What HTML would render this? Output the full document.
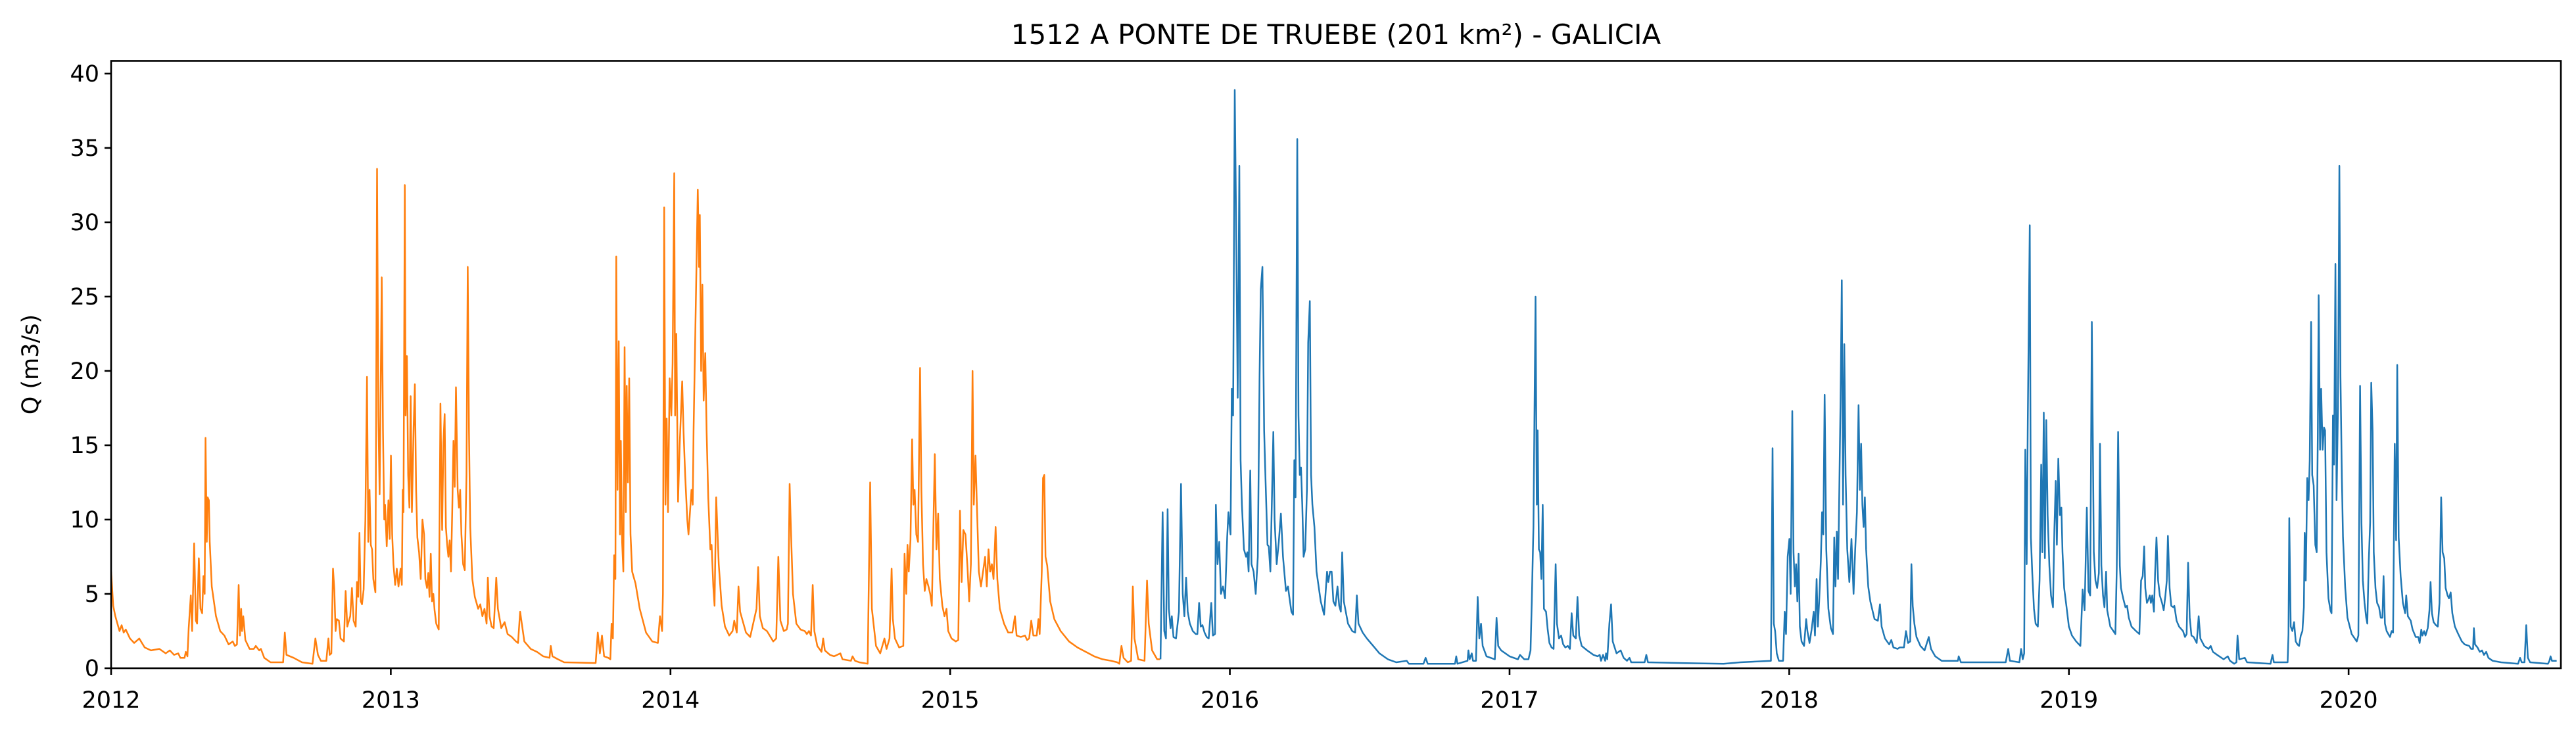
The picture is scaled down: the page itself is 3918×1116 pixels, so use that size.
<!DOCTYPE html>
<html><head><meta charset="utf-8"><style>
html,body{margin:0;padding:0;background:#fff;}
svg{display:block;font-family:"DejaVu Sans","Liberation Sans",sans-serif;}
</style></head><body>
<svg id="chart" width="3918" height="1116" viewBox="0 0 3918 1116" xmlns="http://www.w3.org/2000/svg">
<text x="2032" y="67" font-size="42" text-anchor="middle" fill="#000">1512 A PONTE DE TRUEBE (201 km²) - GALICIA</text>
<text transform="translate(58,554) rotate(-90)" font-size="35" text-anchor="middle" fill="#000">Q (m3/s)</text>
<defs><clipPath id="plotclip"><rect x="169" y="92.5" width="3726" height="923.5"/></clipPath></defs>
<g id="yticks"></g>
<g id="xticks"></g>
<g id="lines" clip-path="url(#plotclip)"></g>
<rect x="169" y="92.5" width="3726" height="923.5" fill="none" stroke="#000" stroke-width="2.6"/>
</svg>
<script>
const yTicks = [0,5,10,15,20,25,30,35,40];
const xTickYears = [2012,2013,2014,2015,2016,2017,2018,2019,2020];
const xTickLabels = ["2012","2013","2014","2015","2016","2017","2018","2019","2020"];
const orangeSeries = [
[2012.000,6.5],[2012.0075,4.2],[2012.015,3.5],[2012.030,2.5],[2012.0375,2.9],[2012.045,2.4],[2012.0525,2.6],[2012.0675,2.0],[2012.0825,1.7],[2012.1005,2.0],[2012.12,1.4],[2012.1425,1.2],[2012.1725,1.3],[2012.195,1.0],[2012.21,1.2],[2012.225,0.9],[2012.24,1.0],[2012.2475,0.7],[2012.2625,0.7],[2012.267,1.1],[2012.273,0.8],[2012.2775,2.7],[2012.285,4.9],[2012.2895,2.5],[2012.297,8.4],[2012.303,3.2],[2012.3075,3.0],[2012.3135,7.4],[2012.3195,4.0],[2012.3255,3.7],[2012.33,6.2],[2012.3345,5.0],[2012.3375,15.5],[2012.342,8.5],[2012.345,11.5],[2012.3495,11.3],[2012.3525,8.5],[2012.36,5.5],[2012.375,3.5],[2012.39,2.5],[2012.405,2.2],[2012.42,1.6],[2012.435,1.8],[2012.4425,1.5],[2012.45,1.6],[2012.456,5.6],[2012.4605,2.2],[2012.465,4.0],[2012.468,2.5],[2012.4725,3.5],[2012.48,1.9],[2012.495,1.3],[2012.51,1.3],[2012.5175,1.5],[2012.5295,1.2],[2012.5355,1.3],[2012.5475,0.7],[2012.57,0.4],[2012.615,0.4],[2012.621,2.4],[2012.627,0.9],[2012.6525,0.7],[2012.6825,0.4],[2012.72,0.3],[2012.7305,2.0],[2012.7395,0.9],[2012.75,0.5],[2012.7695,0.5],[2012.777,2.0],[2012.7815,0.9],[2012.7875,1.0],[2012.7935,6.7],[2012.798,5.3],[2012.8025,2.5],[2012.807,3.3],[2012.8145,3.2],[2012.8205,2.0],[2012.8325,1.8],[2012.8385,5.2],[2012.8445,2.8],[2012.855,3.5],[2012.861,5.4],[2012.867,3.2],[2012.8745,2.8],[2012.879,5.8],[2012.8835,4.8],[2012.888,9.1],[2012.8925,4.5],[2012.897,4.3],[2012.903,5.3],[2012.909,10],[2012.915,19.6],[2012.9195,8.5],[2012.924,12],[2012.9285,8.3],[2012.933,8.0],[2012.9375,6],[2012.945,5.1],[2012.951,33.6],[2012.9555,17],[2012.96,11.7],[2012.9675,26.3],[2012.972,16],[2012.9765,10],[2012.9795,11],[2012.9855,8.2],[2012.9915,11.3],[2012.996,8.7],[2013.0005,14.3],[2013.005,9],[2013.0095,7],[2013.0155,5.6],[2013.0215,6.7],[2013.0275,5.5],[2013.035,6.7],[2013.0395,5.6],[2013.0425,12],[2013.0455,10.5],[2013.05,32.5],[2013.053,17],[2013.0575,21],[2013.062,13],[2013.0665,10.8],[2013.071,18.3],[2013.0755,10.5],[2013.0815,16.2],[2013.086,19.1],[2013.0905,12],[2013.095,8.8],[2013.101,7.8],[2013.107,6],[2013.113,10],[2013.119,9],[2013.1235,6],[2013.1295,5.4],[2013.134,6.4],[2013.1385,4.8],[2013.143,7.7],[2013.1475,4.5],[2013.152,5],[2013.1565,3.9],[2013.1625,3],[2013.1715,2.6],[2013.1775,17.8],[2013.1835,9.3],[2013.188,15.2],[2013.1925,17.1],[2013.197,9.5],[2013.2015,8.3],[2013.206,7.5],[2013.2105,8.6],[2013.215,6.5],[2013.2195,10.5],[2013.224,15.3],[2013.2285,12.2],[2013.233,18.9],[2013.239,12],[2013.2435,10.8],[2013.248,12],[2013.2525,9],[2013.2585,7],[2013.2645,6.6],[2013.2705,13],[2013.275,27],[2013.2795,16],[2013.284,9.5],[2013.2915,6],[2013.3005,4.8],[2013.3125,4],[2013.32,4.3],[2013.3275,3.5],[2013.335,4],[2013.3425,3],[2013.347,6.1],[2013.353,3.5],[2013.3605,2.8],[2013.368,2.7],[2013.377,6.1],[2013.383,4],[2013.395,2.7],[2013.407,3.1],[2013.4175,2.3],[2013.4325,2.1],[2013.4475,1.8],[2013.455,1.7],[2013.4625,3.8],[2013.47,2.8],[2013.4775,1.8],[2013.5,1.3],[2013.5225,1.1],[2013.545,0.8],[2013.5675,0.7],[2013.572,1.5],[2013.578,0.8],[2013.5975,0.6],[2013.62,0.4],[2013.7325,0.35],[2013.74,2.4],[2013.7475,1.0],[2013.755,2.2],[2013.7625,0.8],[2013.7775,0.7],[2013.785,0.6],[2013.7895,3.0],[2013.794,2.0],[2013.7985,7.6],[2013.803,6.0],[2013.806,27.7],[2013.8105,12],[2013.815,22],[2013.8195,9],[2013.8225,15.3],[2013.827,8.5],[2013.8315,6.5],[2013.836,21.6],[2013.8405,10.5],[2013.8435,19],[2013.848,12.5],[2013.8525,19.5],[2013.857,9],[2013.863,6.5],[2013.875,5.7],[2013.89,4],[2013.9125,2.4],[2013.935,1.8],
[2013.955,1.7],[2013.9625,3.5],[2013.97,2.5],[2013.973,5],[2013.9775,31],[2013.982,11],[2013.9865,16.8],[2013.991,10.5],[2013.997,19.5],[2014.003,17],[2014.0075,20.5],[2014.0135,33.3],[2014.0165,17],[2014.021,22.5],[2014.027,11.2],[2014.033,15],[2014.042,19.3],[2014.0465,16],[2014.0525,13],[2014.06,10],[2014.0645,9],[2014.075,12],[2014.0795,11],[2014.0825,16],[2014.09,24],[2014.0975,32.2],[2014.102,27],[2014.105,30.5],[2014.1095,20],[2014.114,25.8],[2014.1185,18],[2014.1245,21.2],[2014.129,16],[2014.135,11.5],[2014.1425,8],[2014.147,8.3],[2014.153,5.5],[2014.1575,4.2],[2014.1635,11.5],[2014.1725,7],[2014.183,4.2],[2014.195,2.8],[2014.21,2.2],[2014.222,2.5],[2014.228,3.2],[2014.237,2.4],[2014.243,5.5],[2014.249,3.8],[2014.258,3.2],[2014.27,2.4],[2014.285,2.1],[2014.3075,4],[2014.3135,6.8],[2014.3195,3.5],[2014.33,2.7],[2014.345,2.5],[2014.3675,1.8],[2014.378,2],[2014.3855,7.5],[2014.393,3.2],[2014.405,2.5],[2014.4155,2.6],[2014.42,3],[2014.426,12.4],[2014.432,8.4],[2014.438,5],[2014.45,3],[2014.465,2.6],[2014.48,2.5],[2014.4875,2.3],[2014.495,2.5],[2014.5025,2.2],[2014.5085,5.6],[2014.5145,2.5],[2014.525,1.5],[2014.54,1.1],[2014.546,2],[2014.552,1.2],[2014.57,0.9],[2014.585,0.8],[2014.6075,1.0],[2014.615,0.6],[2014.645,0.5],[2014.651,0.8],[2014.66,0.5],[2014.675,0.4],[2014.705,0.3],[2014.714,12.5],[2014.72,4],[2014.735,1.5],[2014.75,1.0],[2014.765,2],[2014.7725,1.3],[2014.783,2],[2014.7905,6.7],[2014.795,3.3],[2014.8025,2.0],[2014.8175,1.4],[2014.8325,1.5],[2014.837,7.7],[2014.843,5],[2014.8475,8.3],[2014.852,6.5],[2014.858,8.6],[2014.864,15.4],[2014.8685,11],[2014.873,12],[2014.879,9],[2014.885,8.5],[2014.8925,20.2],[2014.897,12],[2014.903,7],[2014.909,5.2],[2014.915,6],[2014.9225,5.5],[2014.9285,5],[2014.9345,4.2],[2014.945,14.4],[2014.951,8],[2014.957,10.4],[2014.963,6],[2014.972,4.2],[2014.9795,3.5],[2014.987,4],[2014.993,2.5],[2015.005,2.0],[2015.02,1.8],[2015.029,1.9],[2015.035,10.6],[2015.041,5.8],[2015.047,9.3],[2015.0545,9],[2015.062,6.8],[2015.068,4.5],[2015.074,7],[2015.08,20],[2015.0845,11],[2015.0905,14.3],[2015.095,11.3],[2015.1025,6.5],[2015.11,5.5],[2015.1175,6.5],[2015.125,7.5],[2015.131,5.5],[2015.137,8],[2015.143,6.5],[2015.149,7],[2015.155,6],[2015.1625,9.5],[2015.1685,6],[2015.1775,4],[2015.1925,3],[2015.2075,2.4],[2015.2225,2.4],[2015.2315,3.5],[2015.2375,2.2],[2015.2525,2.1],[2015.2675,2.2],[2015.275,1.9],[2015.2825,2.0],[2015.29,3.2],[2015.2975,2.2],[2015.3095,2.2],[2015.3155,3.3],[2015.32,2.3],[2015.3275,6.5],[2015.332,12.8],[2015.3365,13],[2015.341,7.5],[2015.347,6.9],[2015.3575,4.5],[2015.3725,3.3],[2015.395,2.5],[2015.425,1.8],[2015.455,1.4],[2015.485,1.1],[2015.515,0.8],[2015.545,0.6],[2015.575,0.5],[2015.5975,0.4],[2015.605,0.3],[2015.6125,1.5],[2015.62,0.7],[2015.635,0.4],[2015.647,0.5],[2015.653,5.5],[2015.659,2],[2015.6725,0.6],[2015.695,0.5],[2015.704,5.9],[2015.71,3],[2015.722,1.2],[2015.74,0.6],[2015.7505,0.6]
];
const blueSeries = [
[2015.752,0.6],[2015.7595,10.5],[2015.7655,2.5],[2015.7715,2.0],[2015.7775,10.7],[2015.782,4],[2015.788,2.7],[2015.7925,3.5],[2015.7985,2.1],[2015.8075,2.0],[2015.818,3.8],[2015.8255,12.4],[2015.8315,5],[2015.8375,3.5],[2015.8435,6.1],[2015.8495,3.8],[2015.857,3.0],[2015.8675,2.5],[2015.878,2.3],[2015.884,2.3],[2015.89,4.4],[2015.896,2.8],[2015.902,2.9],[2015.9095,2.4],[2015.917,2.1],[2015.9245,2.0],[2015.9335,4.4],[2015.9395,2.2],[2015.947,2.3],[2015.95,11],[2015.956,7],[2015.962,8.5],[2015.968,5],[2015.9755,5.5],[2015.983,4.7],[2015.9905,8.8],[2015.995,10.5],[2016.0025,9],[2016.007,18.8],[2016.0115,17],[2016.0175,38.9],[2016.022,30.8],[2016.028,18.2],[2016.034,33.8],[2016.0385,14],[2016.043,11],[2016.0505,8],[2016.058,7.5],[2016.0625,7.8],[2016.067,6.5],[2016.073,13.3],[2016.0775,7],[2016.085,6.5],[2016.0925,5],[2016.1,7.5],[2016.106,19.5],[2016.1105,25.5],[2016.1165,27],[2016.1225,16],[2016.127,13],[2016.1345,8.3],[2016.139,8.2],[2016.145,6.5],[2016.1555,15.9],[2016.16,10],[2016.1675,7],[2016.175,8.5],[2016.1825,10.4],
[2016.19,7.5],[2016.2005,5.2],[2016.208,5.5],[2016.2125,4.8],[2016.22,3.8],[2016.226,3.6],[2016.2305,14],[2016.235,11.5],[2016.241,35.6],[2016.2455,17],[2016.25,13],[2016.2545,13.5],[2016.259,11],[2016.2635,7.5],[2016.2695,8],[2016.2755,12],[2016.28,21.9],[2016.286,24.7],[2016.2905,13],[2016.295,11],[2016.3025,9.5],[2016.31,6.5],[2016.325,4.5],[2016.337,3.6],[2016.3475,6.5],[2016.352,5.8],[2016.358,6.5],[2016.364,6.5],[2016.37,4.5],[2016.3775,4.2],[2016.385,5.5],[2016.391,4.2],[2016.397,3.8],[2016.4015,7.8],[2016.4075,4.5],[2016.4225,3],[2016.4375,2.5],[2016.448,2.4],[2016.454,4.9],[2016.46,3],[2016.475,2.4],[2016.49,2.0],[2016.5125,1.5],[2016.535,1.0],[2016.565,0.6],[2016.595,0.4],[2016.6325,0.5],[2016.64,0.3],[2016.6925,0.3],[2016.7,0.7],[2016.7075,0.3],[2016.805,0.3],[2016.8095,0.8],[2016.814,0.3],[2016.85,0.5],[2016.853,1.2],[2016.8575,0.6],[2016.865,1.0],[2016.8695,0.5],[2016.88,0.5],[2016.886,4.8],[2016.892,2],[2016.898,3.0],[2016.904,1.5],[2016.9175,0.8],[2016.9475,0.6],[2016.9535,3.4],[2016.9595,1.5],[2016.97,1.2],[2016.985,1.0],[2017.0,0.8],[2017.015,0.7],[2017.03,0.6],[2017.0375,0.9],[2017.0525,0.6],[2017.0675,0.6],[2017.075,1.2],[2017.0795,4.5],[2017.0855,9.5],[2017.093,25],[2017.0975,11],[2017.1005,16],[2017.105,8],[2017.1095,7.8],[2017.114,6],[2017.1185,11],[2017.123,4],[2017.1305,3.8],[2017.1365,2.6],[2017.1425,1.7],[2017.15,1.4],[2017.1575,1.3],[2017.165,7.0],[2017.1695,3],[2017.177,2],[2017.1845,2.2],[2017.192,1.6],[2017.1995,1.4],[2017.2085,1.5],[2017.216,1.3],[2017.222,3.7],[2017.228,2.2],[2017.237,2.0],[2017.243,4.8],[2017.249,2.2],[2017.258,1.5],[2017.2775,1.2],[2017.3,0.9],[2017.315,0.8],[2017.3225,0.9],[2017.327,0.5],[2017.3345,0.9],[2017.342,0.5],[2017.345,1.0],[2017.3495,0.6],[2017.357,3.0],[2017.363,4.3],[2017.369,1.8],[2017.3825,1.0],[2017.3975,1.2],[2017.408,0.7],[2017.42,0.5],[2017.429,0.7],[2017.435,0.4],[2017.483,0.4],[2017.489,0.9],[2017.495,0.4],[2017.615,0.35],[2017.765,0.3],[2017.825,0.4],[2017.9345,0.5],[2017.9405,14.8],[2017.945,3],[2017.9495,2.5],[2017.9555,1],[2017.963,0.5],[2017.978,0.5],[2017.984,3.8],[2017.9885,2.3],[2017.9945,7.5],[2018.0005,8.7],[2018.005,5],[2018.011,17.3],[2018.0155,7.8],[2018.02,5.5],[2018.0245,7],[2018.029,4.5],[2018.0335,7.7],[2018.038,2.8],[2018.044,1.8],[2018.053,1.5],[2018.0605,3.3],[2018.065,2.5],[2018.0725,1.7],[2018.08,2.6],[2018.0875,3.8],[2018.092,2.2],[2018.098,6],[2018.1025,2.8],[2018.107,4.5],[2018.113,7.2],[2018.1175,10.5],[2018.122,9],[2018.1265,18.4],[2018.1325,8],[2018.14,4],[2018.149,2.7],[2018.1565,2.3],[2018.161,8.8],[2018.1655,5.5],[2018.17,9.2],[2018.1745,6],[2018.179,12],[2018.1835,18],[2018.188,26.1],[2018.1925,11],[2018.197,21.8],[2018.2015,13],[2018.2075,8],[2018.215,5.8],[2018.2225,8.7],[2018.23,5],[2018.236,8],[2018.242,10.5],[2018.248,17.7],[2018.2525,12],[2018.257,15.1],[2018.2615,11],[2018.266,9.5],[2018.2705,11.5],[2018.275,8],[2018.2825,5.5],[2018.29,4.5],[2018.305,3.3],[2018.317,3.2],[2018.3245,4.3],[2018.3305,2.8],[2018.3425,2.0],[2018.3575,1.6],[2018.365,1.9],[2018.3725,1.4],[2018.3875,1.3],[2018.395,1.4],[2018.41,1.4],[2018.4175,2.5],[2018.425,1.7],[2018.4325,1.8],[2018.437,7],[2018.4415,4.2],[2018.4475,3],[2018.455,2.1],
[2018.469,1.5],[2018.484,1.2],[2018.499,2.1],[2018.507,1.3],[2018.522,0.8],[2018.545,0.5],[2018.603,0.5],[2018.606,0.8],[2018.614,0.4],[2018.774,0.4],[2018.783,1.3],[2018.789,0.5],[2018.823,0.4],[2018.829,1.3],[2018.835,0.6],[2018.840,1],[2018.844,14.7],[2018.849,7],[2018.853,16.7],[2018.860,29.8],[2018.864,8.8],[2018.869,6.4],[2018.875,4],[2018.881,3],[2018.889,2.8],[2018.895,5.9],[2018.901,13.7],[2018.905,7.8],[2018.910,17.2],[2018.914,7.4],[2018.919,16.7],[2018.924,10.3],[2018.930,6.9],[2018.936,4.9],[2018.943,4.1],[2018.948,9.3],[2018.953,12.6],[2018.957,8.3],[2018.962,14.1],[2018.968,10.3],[2018.973,10.8],[2018.977,7.8],[2018.983,5.4],[2018.991,4.2],[2019.0,2.8],[2019.011,2.2],[2019.026,1.8],[2019.041,1.5],[2019.049,5.3],[2019.056,3.9],[2019.064,10.8],[2019.070,5.2],[2019.076,4.9],[2019.082,23.3],[2019.089,7.8],[2019.095,5.9],[2019.101,5.4],[2019.107,6.4],[2019.111,15.1],[2019.116,6.9],[2019.122,4.9],[2019.127,4.1],[2019.133,6.5],[2019.137,3.9],[2019.148,2.8],[2019.159,2.5],[2019.166,2.3],[2019.171,6.7],[2019.176,15.9],[2019.182,6.9],[2019.186,5.4],[2019.194,4.7],[2019.202,4.1],[2019.208,4.2],[2019.214,3.4],[2019.224,2.8],[2019.240,2.5],[2019.252,2.3],[2019.258,5.9],[2019.264,6.2],[2019.269,8.2],[2019.273,5.4],[2019.279,4.4],[2019.284,4.6],[2019.289,4.9],[2019.293,4.4],[2019.298,4.9],[2019.304,3.8],[2019.308,6.4],[2019.313,8.8],[2019.319,5.9],[2019.325,4.9],[2019.333,4.4],[2019.339,3.9],[2019.345,4.9],[2019.350,5.9],[2019.354,8.9],[2019.360,5.4],[2019.366,4.2],[2019.373,4.1],[2019.377,4.2],[2019.385,3.2],[2019.394,2.8],[2019.408,2.5],[2019.415,2.1],[2019.421,2.3],[2019.426,7.1],[2019.432,3.4],[2019.438,2.2],[2019.446,2.1],[2019.457,1.7],[2019.464,3.5],[2019.470,2],[2019.484,1.5],[2019.499,1.3],[2019.507,1.5],[2019.515,1.1],[2019.530,0.9],[2019.553,0.6],[2019.568,0.8],[2019.576,0.5],[2019.591,0.3],[2019.599,0.4],[2019.603,2.2],[2019.609,0.6],[2019.629,0.7],[2019.637,0.4],[2019.721,0.3],[2019.728,0.9],[2019.733,0.4],[2019.782,0.4],[2019.785,2.3],[2019.788,10.1],[2019.793,2.8],[2019.799,2.5],[2019.805,3.1],[2019.811,1.8],[2019.817,1.6],[2019.823,1.5],[2019.829,2.2],[2019.835,2.5],[2019.840,4.1],[2019.843,9.1],[2019.847,5.9],[2019.852,12.8],[2019.857,11.3],[2019.861,14.0],[2019.866,23.3],[2019.870,13.0],[2019.875,12.3],[2019.881,8.3],[2019.886,7.8],[2019.890,15.7],[2019.893,25.1],[2019.898,14.7],[2019.902,18.8],[2019.907,14.7],[2019.912,16.2],[2019.916,16.0],[2019.921,7.8],[2019.928,4.7],[2019.935,3.9],[2019.939,3.7],[2019.944,17.0],[2019.948,13.7],[2019.953,27.2],[2019.957,11.3],[2019.962,17.6],[2019.967,33.8],[2019.971,19.6],[2019.976,12.8],[2019.980,8.8],[2019.988,5.4],[2019.996,3.4],[2020.011,2.3],[2020.022,2.0],[2020.029,1.8],[2020.035,2.2],[2020.041,19],[2020.046,9.8],[2020.051,5.9],[2020.057,4.4],[2020.063,3.4],[2020.067,3.0],[2020.072,7.2],[2020.077,9.8],[2020.081,19.2],[2020.086,15.9],[2020.090,7.8],[2020.096,5.4],[2020.102,4.4],[2020.109,4.1],[2020.115,3.4],[2020.121,3.4],[2020.125,6.2],[2020.130,3],[2020.136,2.5],[2020.142,2.3],[2020.148,2.1],[2020.154,2.5],[2020.159,2.4],[2020.165,15.1],[2020.170,8.6],[2020.174,20.4],[2020.179,8.8],[2020.186,6.2],[2020.194,4.4],[2020.202,3.7],[2020.206,4.9],[2020.212,3.5],[2020.222,3.2],[2020.229,2.6],[2020.240,2.1],[2020.249,2.1],[2020.254,1.7],[2020.260,2.6],[2020.264,2.2],[2020.270,2.5],[2020.275,2.2],[2020.283,2.7],[2020.289,3.9],[2020.293,5.8],[2020.298,3.7],[2020.304,3.1],[2020.312,2.9],[2020.319,2.8],[2020.325,4.4],[2020.331,11.5],[2020.336,7.8],[2020.342,7.4],[2020.347,5.4],[2020.354,4.9],[2020.359,4.7],[2020.365,5.1],[2020.371,3.7],[2020.380,2.8],[2020.392,2.3],[2020.405,1.8],[2020.415,1.6],[2020.431,1.5],[2020.438,1.3],[2020.445,1.3],[2020.448,2.7],[2020.452,1.6],[2020.461,1.4],[2020.469,1.1],[2020.477,1.2],[2020.484,0.9],[2020.492,1.1],[2020.500,0.7],[2020.515,0.5],[2020.545,0.4],[2020.606,0.3],[2020.613,0.7],[2020.619,0.4],[2020.629,0.4],[2020.635,2.9],[2020.641,0.7],[2020.649,0.4],[2020.713,0.3],[2020.718,0.5],[2020.722,0.8],[2020.727,0.5],[2020.744,0.5]
];

const X0 = 169, X1 = 3895, Y0 = 1016, Y1 = 92.5;
const T_MIN = 2012, T_MAX = 2020.759, Q_MIN = 0, Q_MAX = 40.86;
function xScale(t){ return X0 + (t - T_MIN) / (T_MAX - T_MIN) * (X1 - X0); }
function yScale(q){ return Y0 - (q - Q_MIN) / (Q_MAX - Q_MIN) * (Y0 - Y1); }
const NS = "http://www.w3.org/2000/svg";

const yg = document.getElementById('yticks');
yTicks.forEach(v => {
  const y = yScale(v);
  const ln = document.createElementNS(NS, 'line');
  
  
  ln.setAttribute('x1', X0 - 10); ln.setAttribute('x2', X0);
  ln.setAttribute('y1', y); ln.setAttribute('y2', y);
  ln.setAttribute('stroke', '#000'); ln.setAttribute('stroke-width', '2.6');
  yg.appendChild(ln);
  const tx = document.createElementNS(NS, 'text');
  
  
  tx.setAttribute('x', X0 - 18); tx.setAttribute('y', y + 12);
  tx.setAttribute('font-size', '35'); tx.setAttribute('text-anchor', 'end');
  tx.textContent = String(v);
  yg.appendChild(tx);
});

const xg = document.getElementById('xticks');
xTickYears.forEach((yr, i) => {
  const x = xScale(yr);
  const ln = document.createElementNS(NS, 'line');
  
  
  ln.setAttribute('x1', x); ln.setAttribute('x2', x);
  ln.setAttribute('y1', Y0); ln.setAttribute('y2', Y0 + 10);
  ln.setAttribute('stroke', '#000'); ln.setAttribute('stroke-width', '2.6');
  xg.appendChild(ln);
  const tx = document.createElementNS(NS, 'text');
  
  
  tx.setAttribute('x', x); tx.setAttribute('y', Y0 + 60);
  tx.setAttribute('font-size', '35'); tx.setAttribute('text-anchor', 'middle');
  tx.textContent = xTickLabels[i];
  xg.appendChild(tx);
});

function drawLine(series, color, name){
  const d = series.map((p, i) => (i ? 'L' : 'M') + xScale(p[0]).toFixed(1) + ' ' + yScale(p[1]).toFixed(1)).join(' ');
  const path = document.createElementNS(NS, 'path');
  
  
  path.setAttribute('d', d);
  path.setAttribute('fill', 'none');
  path.setAttribute('stroke', color);
  path.setAttribute('stroke-width', '2.5');
  path.setAttribute('stroke-linejoin', 'round');
  document.getElementById('lines').appendChild(path);
}
drawLine(orangeSeries, '#ff7f0e', 'series-2012-2015-line');
drawLine(blueSeries, '#1f77b4', 'series-2015-2020-line');
</script>
</body></html>
